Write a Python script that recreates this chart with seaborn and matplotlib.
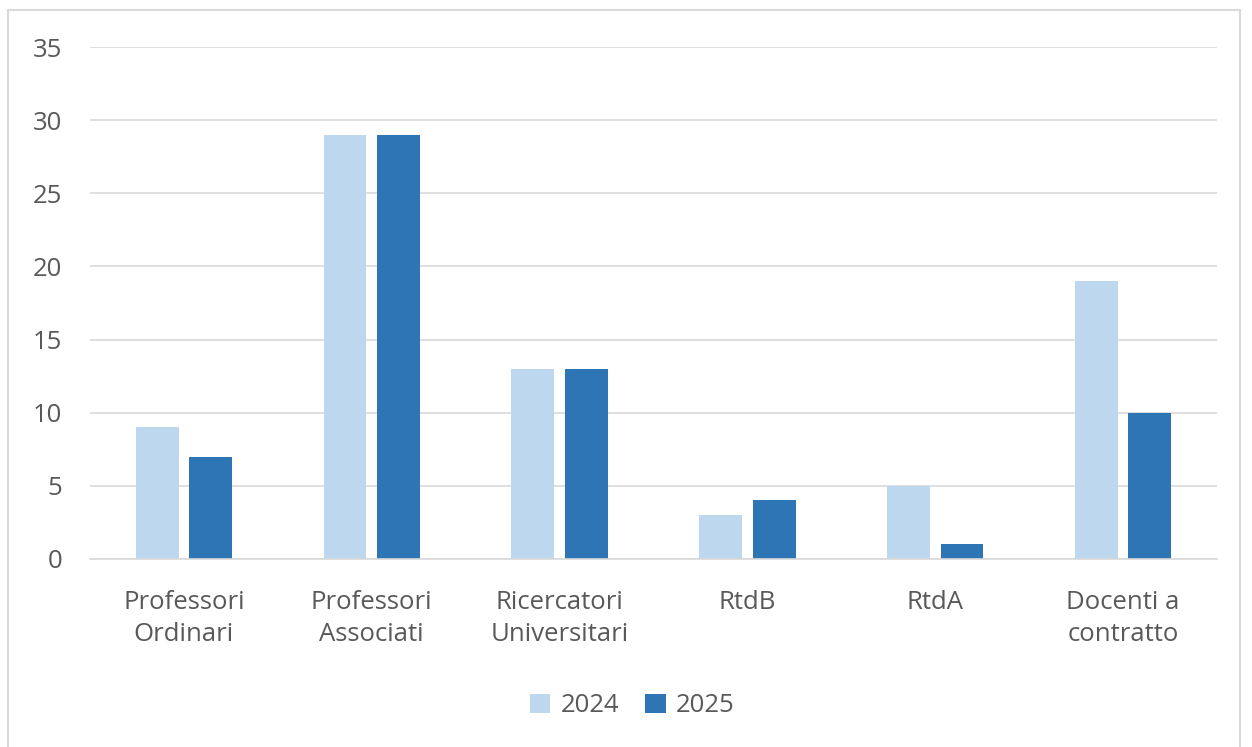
import seaborn as sns
import matplotlib.pyplot as plt
import pandas as pd
from matplotlib.patches import Rectangle, Patch

categories = ['Professori\nOrdinari', 'Professori\nAssociati', 'Ricercatori\nUniversitari',
              'RtdB', 'RtdA', 'Docenti a\ncontratto']
values_2024 = [9, 29, 13, 3, 5, 19]
values_2025 = [7, 29, 13, 4, 1, 10]
years = ['2024', '2025']
colors = ['#BDD7EE', '#2E75B6']

df = pd.DataFrame({
    'categoria': categories * 2,
    'anno': [years[0]] * len(categories) + [years[1]] * len(categories),
    'valore': values_2024 + values_2025,
})

sns.set_style('white')
plt.rcParams['font.family'] = ['Open Sans', 'DejaVu Sans']
text_color = '#595959'

fig = plt.figure(figsize=(12.52, 7.47), dpi=100)
ax = fig.add_axes([0.0719, 0.2517, 0.9001, 0.6853])

sns.barplot(data=df, x='categoria', y='valore', hue='anno', palette=colors,
            width=0.57, gap=0.2, ax=ax, legend=False, saturation=1, linewidth=0)

ax.set_ylim(0, 35)
ax.set_yticks(range(0, 36, 5))
ax.yaxis.grid(True, color='#D9D9D9', linewidth=1.2)
ax.set_axisbelow(True)
for s in ['top', 'right', 'left']:
    ax.spines[s].set_visible(False)
ax.spines['bottom'].set_color('#D9D9D9')
ax.spines['bottom'].set_linewidth(1.2)
ax.set_xlabel('')
ax.set_ylabel('')
ax.tick_params(axis='both', length=0, labelsize=18.5, labelcolor=text_color)
ax.tick_params(axis='x', pad=22)
ax.tick_params(axis='y', pad=20)
for lbl in ax.get_xticklabels():
    lbl.set_linespacing(1.4)

handles = [Patch(facecolor=c, edgecolor='none') for c in colors]
fig.legend(handles, years, loc='center', bbox_to_anchor=(0.505, 0.055), ncol=2,
           frameon=False, fontsize=18.5, labelcolor=text_color,
           handlelength=0.8, handleheight=0.8, columnspacing=1.0, handletextpad=0.4)

fig.patches.append(Rectangle((8 / 1252, -0.05), 1232 / 1252, 1 - 10 / 747 + 0.05,
                             transform=fig.transFigure, fill=False,
                             edgecolor='#D9D9D9', linewidth=1.5))

fig.savefig('out.png', dpi=100)
